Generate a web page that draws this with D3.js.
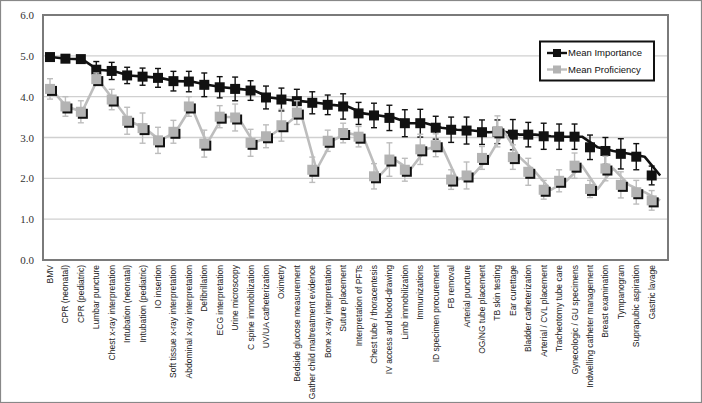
<!DOCTYPE html>
<html><head><meta charset="utf-8">
<script src="https://cdn.jsdelivr.net/npm/d3@7/dist/d3.min.js"></script>
<style>html,body{margin:0;padding:0;background:#fff;}svg{display:block;}</style>
</head><body>
<svg id="chart" width="702" height="403"></svg>
<script>
const categories = ["BMV","CPR (neonatal)","CPR (pediatric)","Lumbar puncture","Chest x-ray interpretation","Intubation (neonatal)","Intubation (pediatric)","IO insertion","Soft tissue x-ray interpretation","Abdominal x-ray interpretation","Defibrillation","ECG interpretation","Urine microscopy","C spine immobilization","UV/UA catheterization","Oximetry","Bedside glucose measurement","Gather child maltreatment evidence","Bone x-ray interpretation","Suture placement","Interpretation of PFTs","Chest tube / thoracentesis","IV access and blood-drawing","Limb immobilization","Immunizations","ID specimen procurement","FB removal","Arterial puncture","OG/NG tube placement","TB skin testing","Ear curettage","Bladder catheterization","Arterial / CVL placement","Tracheotomy tube care","Gynecologic / GU specimens","Indwelling catheter management","Breast examination","Tympanogram","Suprapubic aspiration","Gastric lavage"];
const importance = [4.97,4.93,4.92,4.66,4.63,4.52,4.49,4.46,4.38,4.37,4.29,4.23,4.19,4.15,3.98,3.93,3.89,3.85,3.80,3.76,3.59,3.54,3.48,3.35,3.35,3.24,3.19,3.17,3.13,3.14,3.07,3.07,3.03,3.02,3.02,2.76,2.67,2.60,2.53,2.07];
const importanceErr = [0.05,0.06,0.06,0.20,0.21,0.20,0.21,0.23,0.24,0.25,0.29,0.26,0.29,0.24,0.28,0.28,0.29,0.27,0.24,0.31,0.27,0.30,0.31,0.33,0.34,0.28,0.31,0.33,0.30,0.29,0.37,0.30,0.32,0.31,0.31,0.30,0.33,0.37,0.32,0.23];
const proficiency = [4.19,3.76,3.63,4.43,3.93,3.41,3.23,2.93,3.14,3.76,2.85,3.51,3.49,2.87,3.03,3.30,3.61,2.21,2.92,3.11,3.02,2.05,2.46,2.21,2.71,2.81,1.97,2.07,2.50,3.15,2.52,2.16,1.72,1.94,2.31,1.74,2.24,1.84,1.66,1.46];
const proficiencyErr = [0.25,0.24,0.27,0.15,0.25,0.33,0.37,0.32,0.28,0.24,0.33,0.27,0.33,0.33,0.28,0.39,0.29,0.31,0.26,0.24,0.25,0.31,0.41,0.28,0.37,0.28,0.24,0.33,0.28,0.38,0.30,0.33,0.23,0.27,0.31,0.21,0.30,0.32,0.29,0.24];
const yTicks = [0,1,2,3,4,5,6];
const seriesNames = ["Mean Importance","Mean Proficiency"];

const svg = d3.select("#chart");
const W = 702, H = 403;
const plot = {left:43, right:668, top:15, bottom:260};

svg.append("rect").attr("x",0.5).attr("y",0.5).attr("width",W-1).attr("height",H-1)
  .attr("fill","#fff").attr("stroke","#888").attr("stroke-width",1.2);

const y = d3.scaleLinear().domain([0,6]).range([plot.bottom, plot.top]);
// line vertices sit on band centres; markers were drawn slightly compressed in the original
const xBand = d3.scaleBand().domain(categories).range([plot.left, plot.right]);
const xLine = d => xBand(d) + xBand.bandwidth()/2;
const xMark = d3.scalePoint().domain(categories).range([50, 651.7]);

// gridlines
svg.append("g").selectAll("line").data(yTicks.filter(t => t>0 && t<6)).join("line")
  .attr("x1",plot.left).attr("x2",plot.right)
  .attr("y1",d=>y(d)).attr("y2",d=>y(d))
  .attr("stroke","#d0d0d0").attr("stroke-width",1.3);

// plot frame
svg.append("rect").attr("x",plot.left).attr("y",plot.top)
  .attr("width",plot.right-plot.left).attr("height",plot.bottom-plot.top)
  .attr("fill","none").attr("stroke","#7a7a7a").attr("stroke-width",2);

// y axis labels
const yAxis = d3.axisLeft(y).tickValues(yTicks).tickFormat(d3.format(".1f")).tickSize(0).tickPadding(9);
const ya = svg.append("g").attr("transform",`translate(${plot.left},0)`).call(yAxis);
ya.select(".domain").remove();
ya.selectAll("text").attr("font-family","'Liberation Serif', serif").attr("font-size",11).attr("fill","#333");

// x labels
const xa = svg.append("g").attr("transform",`translate(0,${plot.bottom})`);
xa.selectAll("text").data(categories).join("text")
  .attr("transform",d=>`translate(${xMark(d)+3},5) rotate(-90)`)
  .attr("text-anchor","end")
  .attr("font-family","'Liberation Sans', Arial, sans-serif").attr("font-size",8.5)
  .attr("fill","#222").text(d=>d);

function drawSeries(vals, errs, lineColor, markColor, errColor, shadow) {
  const g = svg.append("g");
  const line = d3.line().x((d,i)=>xLine(categories[i])).y(d=>y(d)).curve(d3.curveLinear);
  g.append("path").datum(vals).attr("d",line).attr("fill","none")
    .attr("stroke",lineColor).attr("stroke-width",2.6).attr("stroke-linejoin","round");
  const eb = g.append("g").selectAll("g").data(vals).join("g")
    .attr("stroke",errColor).attr("stroke-width",1.4);
  eb.append("line").attr("x1",(d,i)=>xMark(categories[i])).attr("x2",(d,i)=>xMark(categories[i]))
    .attr("y1",(d,i)=>y(d+errs[i])).attr("y2",(d,i)=>y(d-errs[i]));
  eb.append("line").attr("x1",(d,i)=>xMark(categories[i])-3).attr("x2",(d,i)=>xMark(categories[i])+3)
    .attr("y1",(d,i)=>y(d+errs[i])).attr("y2",(d,i)=>y(d+errs[i]));
  eb.append("line").attr("x1",(d,i)=>xMark(categories[i])-3).attr("x2",(d,i)=>xMark(categories[i])+3)
    .attr("y1",(d,i)=>y(d-errs[i])).attr("y2",(d,i)=>y(d-errs[i]));
  const s = 10;
  if (shadow) {
    g.append("g").selectAll("rect").data(vals).join("rect")
      .attr("x",(d,i)=>xMark(categories[i])-s/2+2).attr("y",d=>y(d)-s/2+2)
      .attr("width",s).attr("height",s).attr("fill","#111");
  }
  g.append("g").selectAll("rect").data(vals).join("rect")
    .attr("x",(d,i)=>xMark(categories[i])-s/2).attr("y",d=>y(d)-s/2)
    .attr("width",s).attr("height",s).attr("fill",markColor);
}
drawSeries(importance, importanceErr, "#111", "#111", "#111", false);
drawSeries(proficiency, proficiencyErr, "#bdbdbd", "#b3b3b3", "#bdbdbd", true);

// legend
const lg = svg.append("g");
lg.append("rect").attr("x",540).attr("y",41.5).attr("width",114).attr("height",39)
  .attr("fill","#fff").attr("stroke","#111").attr("stroke-width",2);
const legendColors = [{line:"#111",mark:"#111"},{line:"#bdbdbd",mark:"#b3b3b3"}];
seriesNames.forEach((name,i)=>{
  const cy = 53 + i*16.5;
  lg.append("line").attr("x1",547).attr("x2",567).attr("y1",cy).attr("y2",cy)
    .attr("stroke",legendColors[i].line).attr("stroke-width",2.4);
  lg.append("rect").attr("x",553).attr("y",cy-4).attr("width",8).attr("height",8)
    .attr("fill",legendColors[i].mark);
  lg.append("text").attr("x",568).attr("y",cy+3.3)
    .attr("font-family","'Liberation Sans', Arial, sans-serif").attr("font-size",9.5)
    .attr("fill","#111").text(name);
});
</script>
</body></html>
